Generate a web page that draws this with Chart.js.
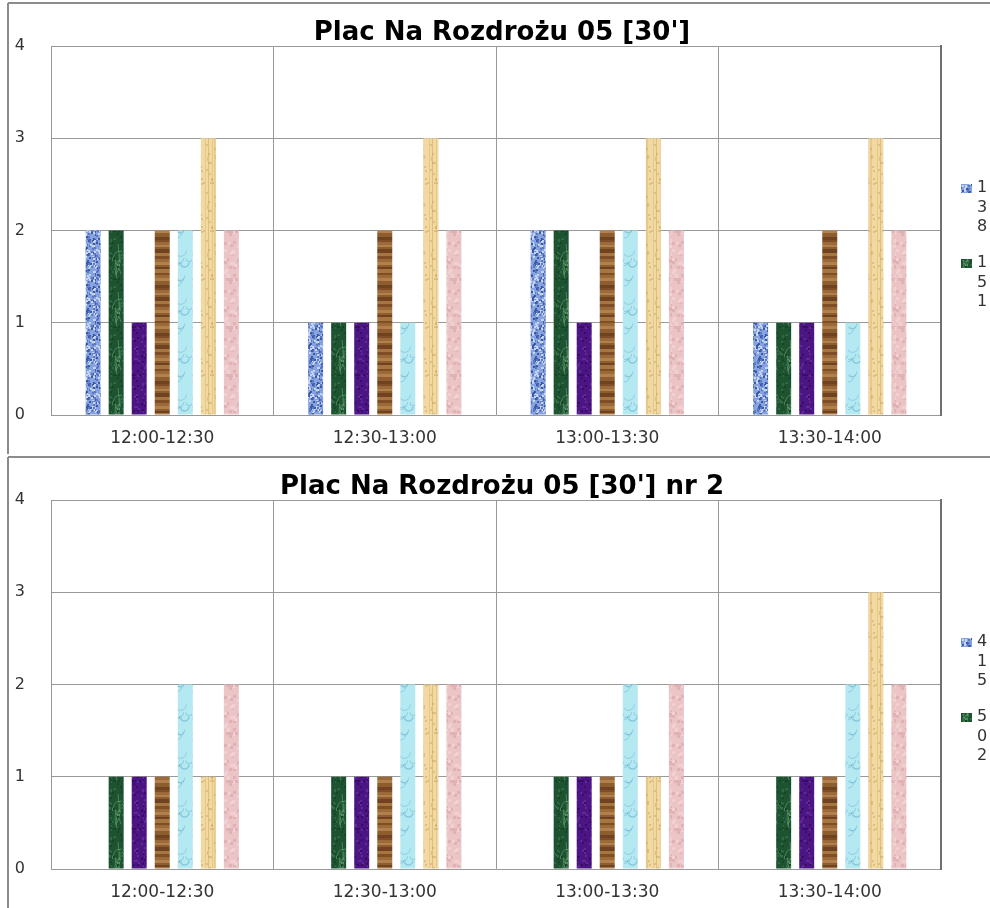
<!DOCTYPE html>
<html>
<head>
<meta charset="utf-8">
<script src="https://cdn.jsdelivr.net/npm/chart.js@4.4.1/dist/chart.umd.min.js"></script>
<style>
  body { margin: 0; background: #fff; width: 990px; height: 908px; overflow: hidden; }
  canvas { display: block; }
</style>
</head>
<body>
<canvas id="top" width="990" height="454"></canvas>
<canvas id="bottom" width="990" height="454"></canvas>
<script>
// categories on the x axis (same for both charts)
const categories = ['12:00-12:30', '12:30-13:00', '13:00-13:30', '13:30-14:00'];
const yTicks = [0, 1, 2, 3, 4];

// first chart
const topTitle = "Plac Na Rozdrożu 05 [30']";
const topNames = ['138', '151', '', '', '', '', ''];
const top138 = [2, 1, 2, 1];
const top151 = [2, 1, 2, 1];
const topPurple = [1, 1, 1, 1];
const topBrown = [2, 2, 2, 2];
const topCyan = [2, 1, 2, 1];
const topTan = [3, 3, 3, 3];
const topPink = [2, 2, 2, 2];

// second chart
const botTitle = "Plac Na Rozdrożu 05 [30'] nr 2";
const botNames = ['415', '502', '', '', '', '', ''];
const bot415 = [0, 0, 0, 0];
const bot502 = [1, 1, 1, 1];
const botPurple = [1, 1, 1, 1];
const botBrown = [1, 1, 1, 1];
const botCyan = [2, 2, 2, 2];
const botTan = [1, 2, 1, 3];
const botPink = [2, 2, 2, 2];

// small texture tiles, like the Excel fill textures
function texture(kind) {
  const c = document.createElement('canvas');
  c.width = 16; c.height = 48;
  const g = c.getContext('2d');
  let seed = 11;
  const rnd = () => (seed = (seed * 16807) % 2147483647) / 2147483647;
  const dots = (n, colors, s) => {
    for (let i = 0; i < n; i++) {
      g.fillStyle = colors[i % colors.length];
      g.fillRect(Math.floor(rnd() * 16), Math.floor(rnd() * 48), s, s);
    }
  };
  if (kind === 'denim') {
    g.fillStyle = '#86a3e0'; g.fillRect(0, 0, 16, 48);
    dots(140, ['#3b5aa6', '#c6d4f4', '#5a78c4'], 2);
  } else if (kind === 'marble') {
    g.fillStyle = '#1e5331'; g.fillRect(0, 0, 16, 48);
    g.strokeStyle = 'rgba(110,170,120,0.55)'; g.lineWidth = 1;
    for (let i = 0; i < 6; i++) {
      g.beginPath(); g.moveTo(rnd() * 16, rnd() * 48);
      g.quadraticCurveTo(rnd() * 16, rnd() * 48, rnd() * 16, rnd() * 48); g.stroke();
    }
    dots(40, ['#164526', '#2f6b42'], 2);
  } else if (kind === 'purple') {
    g.fillStyle = '#4c1584'; g.fillRect(0, 0, 16, 48);
    dots(50, ['#3a0b68', '#5f2a98'], 2);
  } else if (kind === 'wood') {
    const tones = ['#7e4e26', '#9c6a38', '#b2804c', '#8d5c2f', '#6f4220', '#a7753f'];
    let y = 0, k = 0;
    while (y < 48) {
      const h = 2 + Math.floor(rnd() * 3);
      g.fillStyle = tones[k % tones.length];
      g.fillRect(0, y, 16, h); y += h; k++;
    }
  } else if (kind === 'water') {
    g.fillStyle = '#b5e9f2'; g.fillRect(0, 0, 16, 48);
    g.strokeStyle = 'rgba(110,180,205,0.55)';
    for (let i = 0; i < 9; i++) {
      g.beginPath(); g.arc(rnd() * 16, rnd() * 48, 3 + rnd() * 4, 0, Math.PI); g.stroke();
    }
  } else if (kind === 'papyrus') {
    g.fillStyle = '#f2d9a2'; g.fillRect(0, 0, 16, 48);
    g.fillStyle = 'rgba(214,180,110,0.45)';
    for (let i = 0; i < 6; i++) g.fillRect(Math.floor(rnd() * 16), 0, 1, 48);
    dots(20, ['rgba(200,165,95,0.5)'], 2);
  } else {
    g.fillStyle = '#ebc4c6'; g.fillRect(0, 0, 16, 48);
    dots(40, ['#e0b2b5', '#f1d0d1'], 3);
  }
  return g.createPattern(c, 'repeat');
}

const fills = ['denim', 'marble', 'purple', 'wood', 'water', 'papyrus', 'pink'].map(texture);

const framePlugin = {
  id: 'frame',
  beforeDraw(chart) {
    const ctx = chart.ctx;
    ctx.save();
    ctx.fillStyle = '#fff';
    ctx.fillRect(0, 0, chart.width, chart.height);
    ctx.strokeStyle = '#8c8c8c';
    ctx.lineWidth = 2;
    ctx.beginPath();
    ctx.moveTo(8, 3); ctx.lineTo(chart.width, 3);
    ctx.moveTo(8, 3); ctx.lineTo(8, chart.height);
    ctx.stroke();
    ctx.restore();
  }
};

// Excel squeezed the legend so each label wraps into one digit per line
const stackedLegend = {
  id: 'stackedLegend',
  afterDraw(chart) {
    const ctx = chart.ctx;
    ctx.save();
    ctx.font = '16px "DejaVu Sans"';
    ctx.textBaseline = 'middle';
    let y = 188;
    chart.data.datasets.forEach(ds => {
      if (!ds.label) return;
      ctx.fillStyle = ds.backgroundColor;
      ctx.fillRect(961, y - 4, 11, 9);
      ctx.fillStyle = '#333';
      ds.label.split('').forEach((ch, i) => ctx.fillText(ch, 977, y + i * 19.5));
      y += 75;
    });
    ctx.restore();
  }
};

function makeChart(id, title, names, series) {
  const datasets = series.map((values, i) => ({
    label: names[i],
    data: values,
    backgroundColor: fills[i],
    borderWidth: 0,
    categoryPercentage: 0.725,
    barPercentage: 0.65
  }));
  return new Chart(document.getElementById(id), {
    type: 'bar',
    data: { labels: categories, datasets: datasets },
    plugins: [framePlugin, stackedLegend],
    options: {
      responsive: false,
      animation: false,
      devicePixelRatio: 1,
      layout: { padding: { left: 14, right: 0, top: 0, bottom: 0 } },
      plugins: {
        legend: { display: false },
        tooltip: { enabled: false },
        title: {
          display: true,
          text: title,
          color: '#000',
          font: { family: '"DejaVu Sans"', size: 26, weight: 'bold', lineHeight: 1.0 },
          padding: { top: 20, bottom: 0 }
        }
      },
      scales: {
        x: {
          grid: { color: '#999', drawTicks: false, offset: true },
          border: { display: false },
          ticks: { color: '#333', font: { family: '"DejaVu Sans"', size: 17 }, padding: 13 },
          afterFit(s) { s.height = 39; }
        },
        y: {
          min: 0,
          max: 4,
          afterBuildTicks(s) { s.ticks = yTicks.map(v => ({ value: v })); },
          grid: { color: '#999', drawTicks: false },
          border: { display: true, color: '#999' },
          ticks: { color: '#333', font: { family: '"DejaVu Sans"', size: 16 }, padding: 26 },
          afterFit(s) { s.width = 37; }
        },
        edge: {
          type: 'linear',
          position: 'right',
          grid: { display: false, drawTicks: false },
          ticks: { display: false },
          border: { display: true, color: '#707070', width: 2 },
          afterFit(s) { s.width = 49; }
        }
      }
    }
  });
}

makeChart('top', topTitle, topNames,
  [top138, top151, topPurple, topBrown, topCyan, topTan, topPink]);
makeChart('bottom', botTitle, botNames,
  [bot415, bot502, botPurple, botBrown, botCyan, botTan, botPink]);
</script>
</body>
</html>
